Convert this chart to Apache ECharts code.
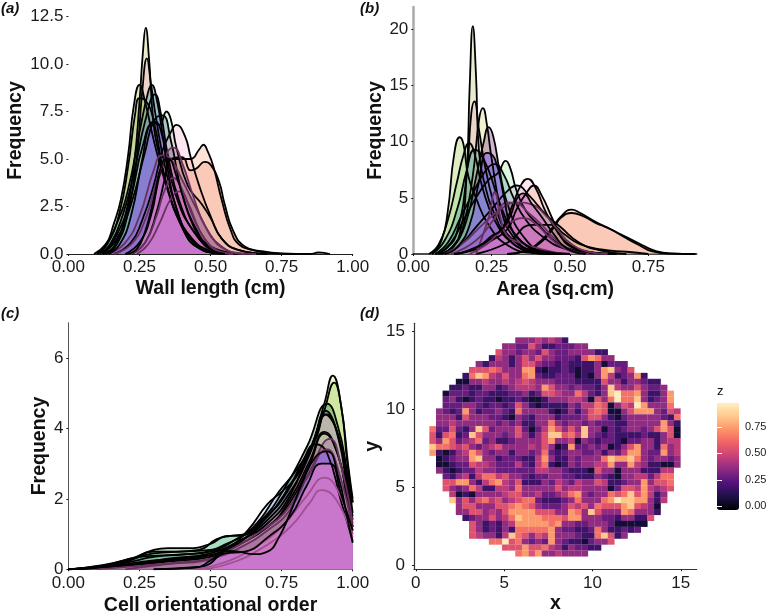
<!DOCTYPE html>
<html><head><meta charset="utf-8">
<style>html,body{margin:0;padding:0;background:#fff}#c{width:768px;height:613px}</style>
<script src="https://cdn.jsdelivr.net/npm/echarts@6/dist/echarts.min.js"></script>
</head><body><div id="c"></div>
<script>
// ---------- panel (a) wall length: density curves [x, density]
const wallA=[[.12,0],[.16,.4],[.2,2],[.23,4.6],[.25,8],[.262,10.6],[.272,11.9],[.283,10.4],[.30,6.8],[.32,5.2],[.35,3.4],[.4,1.4],[.45,.4],[.52,.05],[.6,0]];
const wallB=[[.13,0],[.17,.5],[.21,2.2],[.24,5],[.26,8.6],[.276,10.3],[.29,9],[.31,7],[.34,4.6],[.38,2.4],[.43,.8],[.5,.1],[.58,0]];
const wallC=[[.1,0],[.13,.4],[.16,1.6],[.185,2.9],[.21,5.2],[.23,7.8],[.25,8.9],[.27,8],[.3,6],[.34,3.8],[.39,1.8],[.45,.5],[.52,.05],[.6,0]];
const wallD=[[.1,0],[.14,.6],[.18,2.2],[.21,4.6],[.235,7.4],[.25,8.2],[.27,8.1],[.30,7],[.34,4],[.4,1.4],[.46,.3],[.55,0]];
const wallE=[[.09,0],[.13,.5],[.17,1.6],[.21,3.4],[.25,6.4],[.28,8.5],[.293,8.9],[.31,8.2],[.34,5.6],[.38,3],[.44,1.2],[.5,.35],[.58,.05],[.65,0]];
const wallF=[[.11,0],[.15,.6],[.19,2],[.23,4.2],[.27,7],[.305,8.4],[.325,7.4],[.35,5.2],[.39,2.8],[.45,1],[.52,.15],[.6,0]];
const wallG=[[.12,0],[.17,1],[.22,3],[.26,5.6],[.3,6.9],[.32,6.8],[.345,7.5],[.36,7.1],[.38,5.6],[.42,3.6],[.47,2.6],[.5,1.9],[.54,.8],[.6,.2],[.7,0]];
const wallH=[[.12,0],[.17,.8],[.22,2.6],[.27,5.4],[.3,7],[.33,7.3],[.36,6],[.4,3.2],[.45,1.3],[.5,.4],[.6,0]];
const wallI=[[.16,0],[.22,.6],[.26,1.8],[.3,3.6],[.33,5.4],[.36,6.4],[.38,6.8],[.41,6.2],[.43,5.1],[.46,3.6],[.5,2],[.54,.8],[.6,.2],[.7,0]];
const wallJ=[[.2,0],[.25,.6],[.29,2],[.33,4.6],[.36,5],[.4,5],[.43,5],[.46,5.5],[.475,5.75],[.49,5.4],[.51,4.6],[.54,2.8],[.57,1.3],[.6,.5],[.65,.2],[.72,.03],[.8,0]];
const wallK=[[.22,0],[.27,.6],[.31,2.2],[.34,4],[.36,5],[.4,5.1],[.43,4.4],[.45,4.5],[.48,4.85],[.5,4.7],[.53,3.8],[.55,2.6],[.58,1.2],[.62,.4],[.68,.15],[.75,.03],[.85,0],[.88,.08],[.92,0]];
const wallN=[[.16,0],[.22,.5],[.27,1.8],[.31,3.8],[.35,5.4],[.37,5.6],[.4,4.8],[.44,3],[.48,1.5],[.53,.5],[.6,.05],[.66,0]];
const wallO=[[.14,0],[.2,.6],[.25,2],[.3,4.4],[.33,5.2],[.36,5],[.4,3.9],[.45,2.4],[.5,1],[.55,.25],[.62,0]];
const wallP=[[.22,0],[.27,.6],[.31,2],[.34,3.4],[.37,4],[.4,3.4],[.44,1.9],[.48,.8],[.53,.15],[.58,0]];
const wallQ=[[.24,0],[.28,.5],[.32,1.6],[.36,2.9],[.39,3.3],[.42,2.7],[.46,1.3],[.5,.4],[.55,0]];
const wallL=[[.14,0],[.18,.5],[.22,2],[.26,5],[.29,6.9],[.305,6.95],[.33,6.2],[.345,4.8],[.38,2.4],[.43,.9],[.5,.15],[.55,0]];
const wallM=[[.2,0],[.24,.25],[.27,1.2],[.3,2.9],[.33,4.8],[.35,5],[.38,4.1],[.42,2.2],[.46,.9],[.5,.25],[.55,0]];
const wallCurves=[wallA,wallB,wallC,wallD,wallE,wallF,wallG,wallH,wallI,wallJ,wallK,wallN,wallO,wallP,wallQ,wallL,wallM];

// ---------- panel (b) area
const areaA=[[.08,0],[.12,.5],[.15,2],[.17,7],[.18,15],[.19,20.3],[.2,16],[.21,9],[.23,6],[.26,3.5],[.3,1.5],[.35,.4],[.42,0]];
const areaB=[[.07,0],[.11,.6],[.14,2],[.17,7],[.185,12.5],[.195,13.6],[.21,11],[.235,7],[.27,3.5],[.32,1.2],[.4,.2],[.48,0]];
const areaC=[[.09,0],[.13,.7],[.16,2.5],[.19,7],[.21,12],[.222,13],[.235,11.5],[.25,8.5],[.28,4],[.32,1.5],[.38,.3],[.45,0]];
const areaD=[[.06,0],[.09,1.2],[.11,3.8],[.13,8.8],[.148,10.4],[.16,9.8],[.175,7],[.2,5],[.24,2.6],[.3,.8],[.38,.1],[.45,0]];
const areaE=[[.05,0],[.08,.8],[.11,3],[.14,6.5],[.16,8.8],[.178,9.9],[.195,9],[.22,6],[.26,3],[.32,.9],[.4,.1],[.47,0]];
const areaF=[[.06,0],[.1,1.2],[.14,4],[.17,7.4],[.195,9.3],[.21,9.1],[.24,7.5],[.28,4.2],[.33,1.6],[.4,.3],[.48,0]];
const areaG=[[.09,0],[.13,.8],[.17,3],[.2,6.8],[.225,10],[.24,11.3],[.255,10.5],[.275,7.5],[.3,4.5],[.35,1.6],[.42,.2],[.5,0]];
const areaH=[[.07,0],[.11,1],[.15,3.2],[.19,5.4],[.23,7.4],[.26,8],[.29,7],[.32,5],[.36,3],[.42,1.4],[.48,.5],[.55,.1],[.62,0]];
const areaI=[[.08,0],[.12,1],[.16,3],[.2,5],[.24,6.6],[.27,7.2],[.295,8.3],[.31,7.6],[.33,5.6],[.36,3.8],[.4,2.6],[.46,1],[.55,.2],[.65,0]];
const areaJ=[[.1,0],[.15,.8],[.2,2.4],[.25,4],[.3,5.6],[.33,6.1],[.37,5.2],[.42,3.6],[.47,2.4],[.53,1],[.6,.3],[.68,0]];
const areaK=[[.14,0],[.2,.6],[.25,1.4],[.29,2.6],[.32,4.6],[.345,6.2],[.365,6.7],[.39,5.9],[.42,3.9],[.45,2.4],[.49,1],[.55,.25],[.62,0]];
const areaL=[[.13,0],[.2,.4],[.25,1.2],[.3,2.2],[.33,4],[.36,5.4],[.385,6.1],[.41,5.2],[.44,3.4],[.47,1.6],[.5,.7],[.56,.15],[.64,0]];
const areaM=[[.2,0],[.3,1],[.38,2.6],[.44,2.6],[.48,1.8],[.53,.9],[.6,.4],[.68,.2],[.75,0]];
const areaN=[[.3,0],[.35,.2],[.4,1],[.44,2.2],[.47,3.3],[.505,3.95],[.53,3.7],[.58,2.9],[.63,2.2],[.68,1.5],[.73,.8],[.77,.3],[.82,.05],[.9,0]];
const areaO=[[.3,0],[.36,.3],[.41,1.1],[.45,2.4],[.47,3.2],[.505,3.65],[.54,3.4],[.58,2.8],[.63,2.2],[.68,1.4],[.72,.8],[.76,.25],[.82,.03],[.9,0]];
const areaR=[[.1,0],[.16,1],[.22,2.6],[.28,4],[.33,4.6],[.38,4.4],[.42,3.5],[.46,2.2],[.5,1],[.56,.2],[.62,0]];
const areaS=[[.12,0],[.2,1.2],[.26,3.2],[.3,4.6],[.33,4.5],[.37,3.6],[.41,2.6],[.45,1.4],[.5,.4],[.56,0]];
const areaT=[[.18,0],[.23,.8],[.27,1.8],[.31,2.8],[.35,3.2],[.39,2.7],[.43,1.6],[.47,.7],[.52,.1],[.56,0]];
const areaU=[[.2,0],[.24,3.2],[.26,5.5],[.28,3],[.3,1.6],[.34,1],[.4,.5],[.46,.1],[.5,0]];
const areaP=[[.1,0],[.14,.6],[.18,2.6],[.21,6.5],[.235,9],[.26,8.5],[.29,5],[.31,2.5],[.35,1],[.42,.2],[.5,0]];
const areaQ=[[.13,0],[.18,.3],[.22,.9],[.25,1.6],[.28,2.1],[.31,3.4],[.33,4.9],[.35,5.4],[.38,4.4],[.41,3.3],[.45,1.7],[.49,.5],[.55,0]];
const areaCurves=[areaA,areaB,areaC,areaD,areaE,areaF,areaG,areaH,areaI,areaJ,areaK,areaL,areaM,areaN,areaO,areaR,areaS,areaT,areaU,areaP,areaQ];

// ---------- panel (c) cell orientational order
const orderA=[[0,0],[.1,.08],[.2,.22],[.3,.45],[.4,.5],[.5,.55],[.6,.9],[.7,1.5],[.78,2.4],[.85,3.4],[.9,4.7],[.93,5.5],[.96,4.6],[.98,3.1],[1,1.9]];
const orderB=[[0,0],[.1,.05],[.2,.18],[.3,.35],[.4,.42],[.5,.5],[.6,.8],[.7,1.4],[.78,2.2],[.85,3.3],[.9,4.5],[.935,5.3],[.96,4.6],[.985,2.9],[1,2]];
const orderC=[[0,0],[.1,.06],[.2,.2],[.3,.55],[.35,.6],[.42,.6],[.5,.72],[.56,.95],[.6,.95],[.68,1.4],[.76,2.3],[.84,3.5],[.91,4.7],[.95,4],[.98,2.8],[1,1.9]];
const orderD=[[0,0],[.12,.1],[.25,.35],[.35,.4],[.45,.45],[.55,.7],[.65,1.2],[.74,2.2],[.8,2.8],[.87,3.7],[.905,4.5],[.945,3.9],[.98,2.6],[1,1.6]];
const orderE=[[0,0],[.15,.1],[.3,.25],[.45,.35],[.55,.55],[.63,1.1],[.7,1.85],[.75,2.2],[.8,2.6],[.86,3.5],[.9,4.4],[.95,3.8],[.98,2.4],[1,1.5]];
const orderF=[[0,0],[.12,.12],[.22,.3],[.3,.5],[.38,.5],[.46,.55],[.52,.85],[.57,.95],[.62,1],[.7,1.2],[.78,2],[.85,3.1],[.9,3.9],[.95,3.2],[.98,2],[1,1.2]];
const orderG=[[0,0],[.2,.1],[.35,.3],[.5,.45],[.6,.8],[.7,1.3],[.78,2.1],[.85,3.4],[.91,4.4],[.95,3.7],[.98,2.3],[1,1.4]];
const orderH=[[0,0],[.2,.1],[.35,.22],[.5,.35],[.6,.7],[.7,1.2],[.78,1.9],[.85,3],[.9,3.85],[.95,3.2],[.98,2],[1,1.2]];
const orderI=[[.1,0],[.25,.1],[.4,.2],[.5,.3],[.6,.6],[.7,1.1],[.78,1.7],[.85,2.8],[.92,3.7],[.96,2.9],[1,1.3]];
const orderJ=[[0,0],[.2,.12],[.35,.25],[.5,.4],[.6,.75],[.7,1.5],[.77,2.2],[.82,3],[.87,3.55],[.91,3.3],[.96,1.9],[1,.8]];
const orderK=[[.2,0],[.35,.15],[.48,.25],[.58,.6],[.68,1.1],[.76,1.6],[.84,2.6],[.91,3.4],[.95,2.8],[1,1.1]];
const orderN=[[.45,0],[.55,.2],[.65,.6],[.75,1.2],[.84,2.1],[.9,2.6],[.95,2.2],[1,1]];
const orderO=[[.48,0],[.58,.2],[.68,.6],[.78,1.2],[.85,1.9],[.89,2.25],[.94,2],[1,.9]];
const orderL=[[.3,0],[.45,.05],[.5,.25],[.56,.52],[.6,.5],[.65,.43],[.7,.5],[.74,.9],[.78,1.6],[.82,2.4],[.87,3.2],[.91,3.35],[.95,2.6],[.98,1.5],[1,.75]];
const orderM=[[.3,0],[.42,.05],[.48,.1],[.55,.45],[.62,.5],[.7,.9],[.78,1.5],[.84,2.4],[.89,3],[.92,3],[.96,2.1],[1,1.1]];
const orderCurves=[orderA,orderB,orderC,orderD,orderE,orderF,orderG,orderH,orderI,orderJ,orderK,orderN,orderO,orderL,orderM];

// ---------- layer colours, bottom to top
const wallFills=['#c4cc7a','#eeb0c8','#a8d060','#9ab04e','#3a9f9a','#6a8fc0','#a4e8b0','#5a78a8','#f8bcd8','#f9b498','#f4a080','#8a6a80','#9a5a90','#b05a98','#b05a98','#9068ee','#d67ccc'];
const areaFills=['#c4cc7a','#eeb0c8','#d6da80','#a8d060','#9ad880','#3a9f9a','#8a4088','#2f8f90','#a4e8b0','#c8b0d8','#f8bcd8','#f9b498','#a8bc60','#f9b498','#f4a080','#8a6a80','#9a5a90','#b05a98','#b05a98','#9068ee','#d67ccc'];
const orderFills=['#dcdc7a','#9ad85c','#2f8a40','#3a6f9a','#c8d8f4','#9aecd8','#f8b8a0','#c0b880','#a06aa8','#94508a','#b46aa8','#c060b0','#c060b0','#9068ee','#d67ccc'];
const INK_LINE='#000000', TINT_LINE='#6a3060', PALE_LINE='#a0508f';
const wallLines=wallCurves.map(c=>[wallN,wallO,wallP,wallQ].includes(c)?TINT_LINE:INK_LINE);
const areaLines=areaCurves.map(c=>[areaR,areaS,areaT,areaU].includes(c)?TINT_LINE:INK_LINE);
const orderLines=orderCurves.map(c=>[orderI,orderK].includes(c)?TINT_LINE:[orderN,orderO].includes(c)?PALE_LINE:INK_LINE);
const layerOpacity=0.38, purpleOpacity=0.6, topOpacity=0.74;

// ---------- panel (d) heat map, one digit per cell, rows top to bottom
const heatRows=[
"............."+"33343431....."+"............",
"...........33"+"22531122233.."+"............",
"..........533"+"2332532233331"+"1...........",
".........1431"+"3535332221576"+"33..........",
".......313331"+"3553221211113"+"0222........",
"......5556533"+"3771011210113"+"78325.......",
".....16874353"+"3672112220103"+"7412371.....",
"....003343343"+"4543332221111"+"533133211...",
"...1121133123"+"4443753323221"+"3843353223..",
"..02221221112"+"2312554336421"+"38966731137.",
"..23101211011"+"2100133344305"+"36966831237.",
"..22233212212"+"5310111132446"+"50354973336.",
".321273122321"+"6333310131356"+"500357773254",
".333153332210"+"3213331222355"+"310233333216",
".334333333232"+"3113363233232"+"221133333731",
"6225213852333"+"5202475353833"+"021233235750",
"5156128533323"+"5313588564832"+"121111211350",
"5375234623112"+"3333573340321"+"221022331344",
"8665453234533"+"3343530172232"+"301357331634",
"7101347532331"+"3323621233223"+"132477322734",
".012337833122"+"2114731132333"+"687786323323",
".001225443222"+"4214610132334"+"473374311003",
".310122433222"+"2224433211105"+"33033311144.",
"..21341466453"+"3212233221113"+"21033442466.",
"..55773146743"+"5111324324335"+"41123373556.",
"..53236411443"+"6333335344333"+"30255474345.",
"...4010333345"+"5334223467323"+"3656857413..",
"...8353564534"+"5662111236333"+"6798877314..",
"....355333556"+"7653222354536"+"555785430...",
"....335534357"+"7775553376385"+"333763331...",
".....12335346"+"8777666577333"+"22133115....",
"......5312134"+"7777767332233"+"3200000.....",
"......5312131"+"6666673221126"+"311212......",
"......5433148"+"6535473332116"+"8513........",
".........6695"+"6323273211023"+"35..........",
"...........55"+"5755643132211"+"............",
"............."+"67573343333.."+"............"
];
const heatZ=[.06,.17,.27,.36,.45,.54,.64,.74,.85,.96];
const heatXStart=0.77, heatYStart=14.64, heatCellW=0.374, heatCellH=0.3795;
const heatData=[];
heatRows.forEach((row,r)=>{[...row].forEach((ch,c)=>{
  if(ch!=='.') heatData.push([heatXStart+(c+.5)*heatCellW, heatYStart-(r+.5)*heatCellH, heatZ[+ch]]);
});});
const legendStops=['#000004','#1d1147','#51127c','#8a2a81','#c7407a','#ef6165','#fd9468','#fec98d','#fff0c0'];

// ---------- ticks
const ticksX=[0,.25,.5,.75,1];
const ticksAreaX=[0,.25,.5,.75];
const ticksWallY=[0,2.5,5,7.5,10,12.5];
const ticksAreaY=[0,5,10,15,20];
const ticksOrderY=[0,2,4,6];
const ticksMap=[0,5,10,15];
const ticksLegend=[0,.25,.5,.75];

const FONT='"Liberation Sans",Arial,sans-serif';
const INK='#1a1a1a';
const nameStyle={fontFamily:FONT,fontWeight:'bold',fontSize:19.5,color:'#111'};
function axis(o){
  return {type:'value',min:o.min,max:o.max,gridIndex:o.g,name:o.name,nameLocation:'middle',nameGap:o.gap,
    nameTextStyle:nameStyle,splitLine:{show:false},
    axisLine:{show:o.line!==null,onZero:false,lineStyle:o.line||{}},
    axisTick:{show:true,length:o.tick||2,lineStyle:{color:INK,width:1},customValues:o.ticks},
    axisLabel:{show:true,fontFamily:FONT,fontSize:17,color:INK,margin:o.margin,customValues:o.ticks,hideOverlap:false,showMinLabel:true,showMaxLabel:true,
      formatter:v=>o.dec==null?String(v):v.toFixed(o.dec)}};
}
function curves(list,fills,lines,g){
  const n=list.length;
  return list.map((pts,i)=>({type:'line',xAxisIndex:g,yAxisIndex:g,data:pts,showSymbol:false,symbol:'none',smooth:.5,
    animation:false,silent:true,clip:true,lineStyle:{color:lines[i],width:1.8},
    areaStyle:{color:fills[i],opacity:i===n-1?topOpacity:i===n-2?purpleOpacity:layerOpacity}}));
}
const flat={outerBoundsMode:'none',containLabel:false};
const option={
  animation:false,backgroundColor:'#fff',
  textStyle:{fontFamily:FONT},
  title:[
    {text:'(a)',left:1,top:1},{text:'(b)',left:360,top:1},
    {text:'(c)',left:1,top:306},{text:'(d)',left:360,top:306},
    {text:'z',left:717,top:385}
  ].map((t,i)=>Object.assign(t,{padding:0,textStyle:i<4?{fontFamily:FONT,fontSize:15,fontWeight:'bold',fontStyle:'italic',color:'#111'}:{fontFamily:FONT,fontSize:13,fontWeight:'normal',color:'#111'}})),
  grid:[
    Object.assign({left:68.4,top:7,width:284.3,height:247},flat),
    Object.assign({left:413.3,top:7,width:283.4,height:247},flat),
    Object.assign({left:68.4,top:322.7,width:284.3,height:246.6},flat),
    Object.assign({left:414,top:323.3,width:282.7,height:246},flat),
    Object.assign({left:717,top:402.7,width:22,height:107.3},flat)
  ],
  xAxis:[
    axis({g:0,min:0,max:1,name:'Wall length (cm)',gap:25,ticks:ticksX,dec:2,margin:5,line:{color:'#222',width:1}}),
    axis({g:1,min:0,max:.9045,name:'Area (sq.cm)',gap:26,ticks:ticksAreaX,dec:2,margin:5,line:{color:'#111',width:1.5}}),
    axis({g:2,min:0,max:1,name:'Cell orientational order',gap:26,ticks:ticksX,dec:2,margin:6,line:{color:'#222',width:1}}),
    axis({g:3,min:-.1,max:15.9,name:'x',gap:23,ticks:ticksMap,margin:6,line:{color:'#333',width:1.2}}),
    {type:'value',gridIndex:4,min:0,max:1,show:false}
  ],
  yAxis:[
    axis({g:0,min:0,max:13,name:'Frequency',gap:43,ticks:ticksWallY,dec:1,margin:5,line:null}),
    axis({g:1,min:0,max:22,name:'Frequency',gap:26,ticks:ticksAreaY,margin:5,line:{color:'#aaa',width:2.5}}),
    axis({g:2,min:0,max:7,name:'Frequency',gap:18,ticks:ticksOrderY,margin:5,line:{color:'#555',width:1}}),
    axis({g:3,min:-.23,max:15.54,name:'y',gap:28,ticks:ticksMap,margin:9,line:{color:'#333',width:1.2}}),
    {type:'value',gridIndex:4,min:-.035,max:.98,position:'right',z:10,splitLine:{show:false},axisLine:{show:false},
      axisTick:{show:true,inside:true,length:5,lineStyle:{color:'#fff',width:1},customValues:ticksLegend},
      axisLabel:{show:true,fontFamily:FONT,fontSize:11,color:INK,margin:6,customValues:ticksLegend,formatter:v=>v.toFixed(2)}},
    {type:'value',gridIndex:4,min:-.035,max:.98,position:'left',z:10,splitLine:{show:false},axisLine:{show:false},
      axisTick:{show:true,inside:true,length:5,lineStyle:{color:'#fff',width:1},customValues:ticksLegend},
      axisLabel:{show:false}}
  ],
  visualMap:{type:'continuous',min:-.035,max:.98,seriesIndex:0,dimension:2,calculable:false,realtime:false,hoverLink:false,
    left:717,top:402.7,itemWidth:22,itemHeight:107.3,padding:0,text:null,showLabel:false,inRange:{color:legendStops}},
  series:[
    {type:'custom',xAxisIndex:3,yAxisIndex:3,data:heatData,encode:{x:0,y:1},silent:true,animation:false,
      renderItem:(p,api)=>{
        const c=api.coord([api.value(0),api.value(1)]);
        const s=api.size([heatCellW,heatCellH]);
        return {type:'rect',shape:{x:c[0]-s[0]/2,y:c[1]-s[1]/2,width:s[0]+.15,height:s[1]+.15},style:{fill:api.visual('color')}};
      }},
    ...curves(wallCurves,wallFills,wallLines,0),
    ...curves(areaCurves,areaFills,areaLines,1),
    ...curves(orderCurves,orderFills,orderLines,2)
  ]
};
const chart=echarts.init(document.getElementById('c'),null,{renderer:'canvas'});
chart.setOption(option);
</script></body></html>
